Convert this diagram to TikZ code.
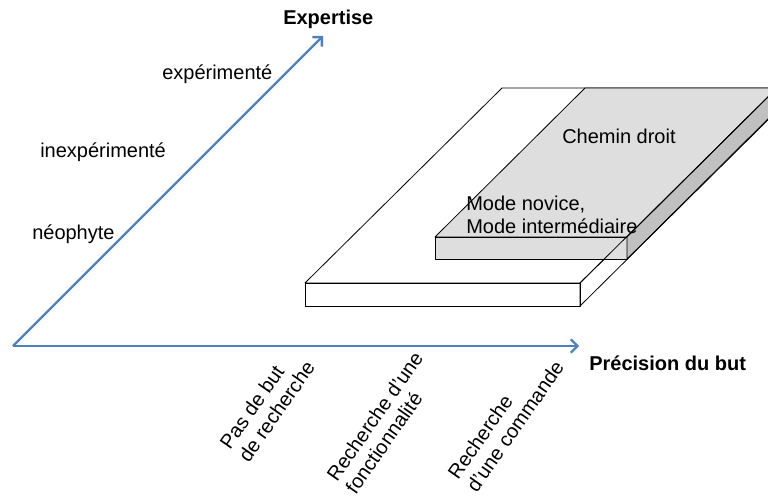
\documentclass[tikz,border=0pt]{standalone}
\usepackage{fontspec}
\setmainfont{Liberation Sans}
\usetikzlibrary{arrows.meta}

\definecolor{axisblue}{RGB}{79,129,189}
\definecolor{slabgrey}{RGB}{222,222,222}
\definecolor{slabside}{RGB}{192,192,192}

\begin{document}
\begin{tikzpicture}[x=0.75pt,y=-0.75pt,font=\fontsize{15}{17}\selectfont]
	\tikzstyle{axis}=[draw=axisblue,line width=1.7pt,-{Straight Barb[length=5pt,width=10pt]}];
	\tikzstyle{lbl}=[inner sep=0pt,align=left];
	\tikzstyle{tilted}=[lbl,rotate=55,anchor=north west];
	\tikzstyle{slab}=[draw=black,line width=0.6pt,line join=round];

	\useasboundingbox (0,0) rectangle (768,499);

	% white slab
	\coordinate (w1) at (305,283);
	\coordinate (w2) at (580,283);
	\coordinate (w3) at (580,306);
	\coordinate (w4) at (305,306);
	\coordinate (w5) at (502,88);
	\coordinate (w6) at (777,88);
	\coordinate (w7) at (777,111);
	\fill[white] (w1) -- (w5) -- (w6) -- (w7) -- (w3) -- (w4) -- cycle;
	\draw[slab] (w1) -- (w5) -- (w6) -- (w2) -- cycle;
	\draw[slab] (w1) rectangle (w3);

	% grey slab
	\coordinate (g1) at (435,237);
	\coordinate (g2) at (627,237);
	\coordinate (g3) at (627,259);
	\coordinate (g4) at (435,259);
	\coordinate (g5) at (585,88);
	\coordinate (g6) at (777,88);
	\coordinate (g7) at (777,110);
	\draw[slab,fill=slabgrey] (g1) -- (g5) -- (g6) -- (g2) -- cycle;
	\draw[slab,fill=slabgrey] (g1) rectangle (g3);
	\draw[slab,fill=slabside] (g2) -- (g6) -- (g7) -- (g3) -- cycle;

	% right side of the white slab, seen through
	\draw[slab] (w2) -- (w6) -- (w7) -- (w3) -- cycle;

	\node[lbl,anchor=base west] at (562,144) (chemin) {Chemin droit};
	\node[lbl,anchor=north west] at (466,196) (modes) {Mode novice,\\Mode interm\'ediaire};

	% axes
	\coordinate (orig) at (13,346);
	\coordinate (xend) at (579,346);
	\coordinate (yend) at (323,36);
	\draw[axis] (orig) -- (xend);
	\draw[axis] (orig) -- (yend);

	\node[lbl,anchor=base west,font=\fontsize{15}{17}\selectfont\bfseries] at (283,25) (expertise) {Expertise};
	\node[lbl,anchor=base west,font=\fontsize{15}{17}\selectfont\bfseries] at (589,370) (precision) {Pr\'ecision du but};

	\node[lbl,anchor=base west] at (162,80) (exp) {exp\'eriment\'e};
	\node[lbl,anchor=base west] at (40,158) (inexp) {inexp\'eriment\'e};
	\node[lbl,anchor=base west] at (32,240) (neo) {n\'eophyte};

	\node[tilted] at (218,442) (pasbut) {Pas de but\\de recherche};
	\node[tilted] at (325,474) (fonct) {Recherche d'une\\fonctionnalit\'e};
	\node[tilted] at (446,472) (cmd) {Recherche\\d'une commande};
\end{tikzpicture}
\end{document}
